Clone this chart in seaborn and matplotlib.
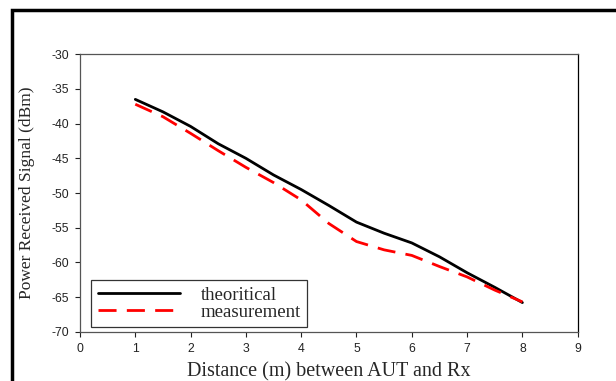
import numpy as np
import pandas as pd
import matplotlib
matplotlib.use("Agg")
import matplotlib.pyplot as plt
import matplotlib.patches as mpatches
import seaborn as sns

# values (every 0.5 m)
distance = [1.0, 1.5, 2.0, 2.5, 3.0, 3.5, 4.0, 4.5, 5.0, 5.5, 6.0, 6.5, 7.0, 7.5, 8.0]
theoritical = [-36.5, -38.3, -40.4, -42.9, -45.0, -47.4, -49.5, -51.8, -54.2, -55.8,
               -57.2, -59.2, -61.5, -63.6, -65.8]
measurement = [-37.2, -39.0, -41.4, -43.9, -46.3, -48.5, -51.0, -54.4, -57.0, -58.2,
               -59.0, -60.6, -62.1, -64.0, -65.7]
x_ticks = [0, 1, 2, 3, 4, 5, 6, 7, 8, 9]
y_ticks = [-70, -65, -60, -55, -50, -45, -40, -35, -30]

df = pd.DataFrame({"distance": distance, "theoritical": theoritical,
                   "measurement": measurement})

sns.set_style("white")
plt.rcParams["font.family"] = ["Liberation Sans", "DejaVu Sans"]
plt.rcParams["axes.unicode_minus"] = False

fig = plt.figure(figsize=(6.16, 3.81), dpi=100)
ax = fig.add_axes([80 / 616, 49.3 / 381, 497.7 / 616, 277.4 / 381])

sns.lineplot(data=df, x="distance", y="theoritical", ax=ax, color="black",
             linewidth=2.0, label="theoritical")
sns.lineplot(data=df, x="distance", y="measurement", ax=ax, color="#ff0000",
             linewidth=2.0, label="measurement", dashes=False)
ax.lines[1].set_dashes([6.5, 3.7])

ax.set_xlim(0, 9)
ax.set_ylim(-70, -30)
ax.set_xticks(x_ticks)
ax.set_yticks(y_ticks)
ax.tick_params(axis="both", direction="out", length=3.5, width=0.8, pad=4.5,
               labelsize=8.8, colors="#222222", bottom=True, left=True)

for s in ax.spines.values():
    s.set_visible(True)
    s.set_linewidth(0.9)
    s.set_color("#555555")
ax.spines["right"].set_color("black")

serif = ["Liberation Serif", "DejaVu Serif"]
ax.set_xlabel("Distance (m) between AUT and Rx", family=serif, fontsize=14.5,
              labelpad=5)
ax.set_ylabel("Power Received Signal (dBm)", family=serif, fontsize=12.5,
              labelpad=12)

leg = ax.legend(loc="lower left", bbox_to_anchor=(0.022, 0.016), borderaxespad=0,
                frameon=True, fancybox=False, edgecolor="black",
                prop={"family": serif, "size": 13.5}, handlelength=4.4,
                handletextpad=1.1, labelspacing=0.0, borderpad=0.35)
leg.get_frame().set_linewidth(0.9)

# thick outer frame (top and left only visible)
fig.add_artist(mpatches.Rectangle((11.7 / 616, -0.2), 1.2, 1.2 - 10 / 381,
                                  transform=fig.transFigure, fill=False,
                                  edgecolor="black", linewidth=2.5, clip_on=False))

fig.savefig("out.png", dpi=100)
